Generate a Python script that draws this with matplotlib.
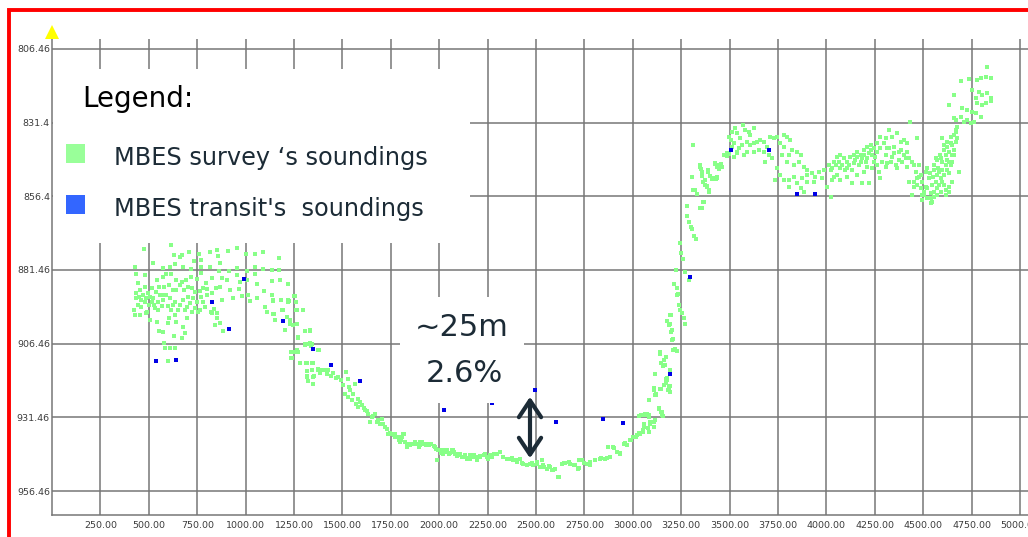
import matplotlib
matplotlib.use('Agg')
import matplotlib.pyplot as plt
from matplotlib.patches import Rectangle, FancyArrowPatch
from matplotlib.lines import Line2D

W, H = 1028, 537

# ---------------- axis ticks ----------------
x_ticks = [250, 500, 750, 1000, 1250, 1500, 1750, 2000, 2250, 2500, 2750,
           3000, 3250, 3500, 3750, 4000, 4250, 4500, 4750, 5000]
x_tick_labels = ["250.00", "500.00", "750.00", "1000.00", "1250.00", "1500.00",
                 "1750.00", "2000.00", "2250.00", "2500.00", "2750.00", "3000.00",
                 "3250.00", "3500.00", "3750.00", "4000.00", "4250.00", "4500.00",
                 "4750.00", "5000.00"]
y_ticks = [806.46, 831.46, 856.46, 881.46, 906.46, 931.46, 956.46]
y_tick_labels = ["806.46", "831.4", "856.4", "881.46", "906.46", "931.46", "956.46"]

# ---------------- MBES transit soundings (blue) ----------------
transit_dist = [537, 640, 826, 914, 992, 1192, 1347, 1439, 1591, 2026, 2271,
                2495, 2602, 2844, 2948, 3194, 3294, 3505, 3703, 3846, 3942]
transit_depth = [912.5, 911.9, 892.4, 901.4, 884.6, 898.7, 908.3, 913.8, 919.3,
                 929.1, 926.6, 922.2, 933.1, 932.1, 933.4, 916.7, 883.8, 840.7,
                 840.7, 855.6, 855.8]

# ---------------- MBES survey soundings (green), by section ----------------
survey_left = [
    (476, 874.3), (617, 872.9), (629, 876.4), (671, 876.4), (710, 875.3), (759, 876.0),
    (767, 878.1), (817, 875.3), (853, 874.6), (855, 876.7), (910, 875.0), (953, 874.0),
    (1002, 876.0), (1047, 876.0), (1090, 875.3), (1174, 877.4),
    (428, 880.3), (524, 879.1), (571, 880.7), (609, 880.5), (636, 879.4), (660, 877.1),
    (678, 880.3), (717, 881.2), (733, 878.3), (771, 880.3), (816, 880.3), (867, 879.1),
    (864, 881.7), (912, 881.7), (957, 880.7), (1005, 881.8), (1048, 880.4), (1090, 881.2),
    (1134, 881.5), (1174, 881.5),
    (433, 882.8), (479, 883.2), (540, 884.9), (571, 883.7), (591, 883.0), (617, 882.8),
    (638, 884.9), (669, 885.5), (693, 884.9), (717, 883.7), (747, 884.4), (771, 882.6),
    (793, 886.0), (828, 884.3), (876, 884.3), (902, 884.9), (957, 883.2), (971, 885.4),
    (1005, 884.9), (1050, 883.0), (1057, 886.2), (1134, 885.2), (1178, 884.9), (1217, 886.2),
    (445, 886.0), (453, 888.3), (479, 887.1), (497, 889.2), (514, 887.7), (536, 888.8),
    (553, 887.1), (576, 887.4), (603, 886.6), (626, 888.3), (643, 888.3), (660, 886.6),
    (681, 888.3), (700, 887.1), (721, 887.7), (738, 888.8), (764, 888.5), (781, 887.7),
    (802, 888.0), (824, 889.4), (847, 887.7), (867, 887.1), (919, 888.3), (966, 888.0),
    (979, 890.3), (1014, 889.9), (1060, 891.1), (1097, 888.6), (1134, 889.9), (1221, 891.7),
    (1252, 890.2),
    (433, 891.1), (445, 893.4), (424, 895.1), (459, 894.0), (479, 892.3), (491, 895.7),
    (502, 893.4), (522, 891.1), (531, 894.5), (545, 892.3), (566, 893.7), (579, 889.9),
    (600, 893.7), (617, 895.1), (634, 892.3), (652, 895.1), (678, 891.7), (695, 894.0),
    (712, 892.8), (721, 895.7), (738, 894.2), (755, 895.7), (781, 892.3), (802, 889.9),
    (819, 895.7), (838, 894.6), (850, 896.2), (876, 891.7), (936, 891.1), (1022, 891.9),
    (1100, 894.0), (1140, 891.9), (1183, 891.7), (1224, 892.1), (1259, 895.1), (1298, 895.1),
    (1109, 895.7),
    (428, 896.8), (453, 896.8), (488, 896.2), (505, 898.5), (540, 899.1), (605, 897.6),
    (634, 896.8), (643, 899.1), (678, 900.8), (695, 897.9), (764, 895.1), (824, 896.2),
    (841, 900.2), (853, 897.6), (867, 899.6), (881, 902.2), (1147, 896.5), (1186, 895.1),
    (1153, 898.5), (1229, 898.3), (1247, 900.2), (1203, 901.9), (1307, 902.1), (1333, 901.9),
    (1269, 904.4), (1315, 906.5), (553, 902.1), (571, 902.5), (600, 899.6), (629, 903.9),
    (669, 904.7), (686, 903.0),
    (578, 906.2), (586, 908.1), (612, 907.8), (634, 907.8), (600, 912.4), (1243, 909.4),
    (1234, 911.2), (1260, 909.4), (1307, 907.0), (1341, 906.5), (1281, 913.0), (1315, 913.0),
    (1350, 913.0), (1374, 908.7), (1341, 915.5), (1376, 915.5), (1315, 917.8), (1350, 917.8),
    (436, 889.4), (450, 890.5), (462, 891.7), (471, 889.9), (484, 891.1), (505, 890.5),
    (514, 892.3), (528, 893.4), (548, 895.1), (557, 889.9), (574, 891.7), (591, 889.9),
    (609, 891.1), (626, 893.4), (660, 893.4), (686, 895.1), (703, 890.5), (729, 891.1),
    (747, 892.3), (772, 890.5), (790, 894.0),
]

survey_slope = [
    (1140, 891.8), (1143, 896.5), (1152, 898.5), (1183, 891.8), (1191, 895.2), (1203, 901.9),
    (1212, 897.4), (1221, 892.3), (1229, 899.7), (1255, 890.4), (1260, 892.3), (1264, 894.9),
    (1267, 899.9), (1298, 895.2), (1272, 904.2), (1305, 902.2), (1333, 902.2), (1307, 906.5),
    (1333, 906.2), (1338, 907.3), (1233, 909.3), (1241, 911.3), (1267, 908.7), (1272, 909.3),
    (1379, 908.5), (1281, 913.0), (1310, 913.0), (1341, 913.0), (1316, 915.9), (1319, 917.5),
    (1321, 919.1), (1347, 920.0), (1355, 917.5), (1376, 914.9), (1384, 916.4), (1393, 915.5),
    (1410, 915.5), (1419, 916.6), (1428, 915.3), (1441, 917.5), (1453, 916.4), (1467, 918.0),
    (1479, 917.8), (1493, 918.9), (1519, 916.1), (1529, 918.3), (1502, 920.6), (1534, 921.2),
    (1565, 920.0), (1514, 923.4), (1528, 924.6), (1548, 925.7), (1571, 926.8), (1583, 928.0),
    (1600, 927.4), (1617, 929.1), (1634, 930.2), (1652, 931.3), (1643, 933.0), (1669, 930.4),
    (1686, 932.5), (1703, 931.9), (1712, 933.6), (1721, 934.7), (1738, 937.0), (1764, 937.6),
    (1781, 938.1), (1790, 939.3), (1807, 938.1), (1819, 937.0), (1833, 941.5), (1850, 941.0),
    (1867, 940.4), (1884, 940.4), (1902, 941.0), (1919, 940.4), (1945, 941.0), (1971, 941.3),
    (1996, 942.7), (2022, 942.4), (2040, 943.2), (2065, 942.7), (2083, 943.8), (2100, 944.3),
    (2117, 944.9), (2143, 945.1), (2169, 944.7), (2195, 944.9), (2229, 944.3), (2264, 944.3),
    (2298, 943.8),
    (1540, 922.3), (1557, 923.4), (1578, 925.1), (1591, 926.2), (1609, 928.2), (1626, 929.3),
    (1660, 931.1), (1677, 933.0), (1695, 933.6), (1729, 935.3), (1747, 936.8), (1772, 938.1),
    (1798, 939.8), (1824, 939.8), (1841, 940.4), (1876, 939.8), (1893, 941.5), (1910, 939.8),
    (1936, 940.4), (1957, 940.6), (1983, 942.1), (2009, 943.6), (2031, 942.4), (2053, 943.8),
    (2074, 943.2), (2091, 944.7), (2109, 943.8), (2134, 944.3), (2157, 945.5), (2181, 944.3),
    (2212, 944.9), (2246, 944.9), (2281, 944.0),
]

survey_bottom = [
    (1753, 937.0), (1771, 937.2), (1788, 938.1), (1814, 937.0), (1805, 939.3), (1831, 941.0),
    (1848, 940.4), (1874, 940.2), (1900, 939.8), (1917, 940.6), (1934, 941.0), (1960, 940.6),
    (1978, 941.5), (1986, 946.1), (2003, 942.7), (2021, 943.8), (2038, 942.4), (2055, 943.6),
    (2072, 942.7), (2090, 943.8), (2107, 944.3), (2124, 944.9), (2141, 945.5), (2159, 944.3),
    (2176, 944.9), (2193, 946.1), (2210, 944.7), (2236, 944.0), (2253, 945.5), (2271, 944.9),
    (2297, 943.8), (2314, 943.2), (2331, 944.9), (2348, 945.5), (2365, 945.5), (2383, 946.1),
    (2400, 946.6), (2417, 945.5), (2434, 947.2), (2452, 947.7), (2469, 947.2), (2486, 947.7),
    (2503, 947.2), (2521, 948.3), (2538, 947.7), (2555, 948.9), (2572, 948.3), (2590, 949.4),
    (2615, 951.7), (2633, 947.2), (2650, 947.0), (2676, 947.4), (2702, 947.7), (2719, 948.9),
    (2736, 946.1), (2762, 947.2), (2779, 946.6), (2805, 946.1), (2831, 945.5), (2857, 945.5),
    (2883, 944.9), (2874, 941.5), (2900, 941.5), (2917, 943.2), (2934, 943.8), (2952, 940.4),
    (2969, 941.0), (2986, 939.3), (3003, 938.1), (3021, 937.6), (3038, 937.0), (3055, 935.9),
    (3034, 931.1), (3064, 930.8), (3081, 931.3), (3107, 933.0), (3133, 928.5), (3150, 929.6),
    (3155, 931.1), (3081, 925.7), (3107, 922.3), (3121, 924.0), (3138, 921.7), (3159, 920.6),
    (3176, 918.9), (3184, 922.3), (3193, 915.5), (3172, 918.3), (3167, 913.8), (3159, 912.1),
    (3138, 909.9), (3115, 916.6), (3210, 908.7), (3219, 908.2), (3202, 905.3), (3198, 902.5),
    (3193, 896.8), (3190, 899.7), (3228, 890.1), (3236, 893.5),
    (2376, 945.4), (2402, 945.9), (2428, 946.8), (2453, 947.6), (2479, 947.1), (2505, 946.5),
    (2531, 945.9), (2540, 948.4), (2566, 948.0), (2583, 949.3), (2600, 949.1), (2617, 951.8),
    (2643, 947.1), (2669, 946.5), (2695, 947.6), (2721, 945.9), (2721, 948.8), (2747, 947.1),
    (2781, 947.6), (2807, 945.9), (2833, 945.4), (2867, 945.4), (2871, 941.4), (2902, 942.0),
    (2919, 943.1), (2936, 943.7), (2962, 940.3), (2988, 939.2), (3014, 938.0), (3031, 936.9),
    (3040, 930.7), (3057, 934.6), (3065, 930.3), (3083, 936.3), (3091, 932.9), (3109, 934.6),
    (3117, 923.9), (3109, 922.0), (3143, 922.0), (3152, 930.1), (3186, 921.1), (3191, 922.8),
    (3135, 928.4),
]

survey_wall = [
    (3312, 839.2), (3345, 846.0), (3350, 847.1), (3303, 849.9), (3359, 849.7), (3364, 851.6),
    (3372, 852.7), (3384, 853.1), (3393, 854.4), (3312, 854.2), (3319, 854.4), (3333, 855.8),
    (3364, 858.4), (3347, 860.4), (3359, 860.6), (3390, 848.2), (3398, 849.7), (3422, 845.4),
    (3433, 846.6), (3445, 847.1), (3453, 845.4), (3471, 842.6), (3484, 842.9), (3497, 842.0),
    (3505, 837.5), (3514, 839.6), (3540, 841.8), (3522, 843.2), (3407, 850.5), (3428, 850.5),
    (3436, 850.3), (3278, 859.8), (3281, 863.2), (3290, 865.1), (3298, 866.8), (3307, 867.7),
    (3316, 870.0), (3324, 871.1), (3243, 872.2), (3250, 875.8), (3260, 877.9), (3221, 881.5),
    (3272, 882.0), (3290, 884.8), (3212, 886.2), (3229, 887.6), (3234, 889.7), (3243, 895.0),
    (3255, 896.1), (3264, 897.8), (3272, 899.7), (3178, 898.9), (3186, 900.0), (3198, 896.7),
    (3200, 901.9), (3207, 904.9), (3217, 908.5), (3226, 909.0), (3140, 909.4), (3172, 911.1),
    (3147, 913.0), (3155, 914.1), (3116, 916.7), (3178, 918.0), (3169, 919.7), (3191, 920.9),
    (3188, 922.2), (3109, 921.4), (3119, 923.7), (3147, 922.0), (3086, 925.6), (3134, 928.8),
    (3143, 929.6), (3152, 930.8), (3114, 932.4), (3071, 930.4), (3083, 930.8), (3048, 930.7),
    (3057, 933.8), (3078, 935.2), (3091, 933.8), (3109, 934.7), (3053, 936.3),
]

survey_plateau = [
    (3348, 846.4), (3357, 848.1), (3374, 850.9), (3383, 853.2), (3391, 854.9), (3366, 858.3),
    (3357, 860.5), (3386, 847.5), (3426, 845.3), (3443, 845.8), (3460, 846.4), (3469, 842.4),
    (3486, 841.9), (3417, 850.3), (3434, 849.8),
    (3495, 836.2), (3512, 834.5), (3529, 833.4), (3538, 835.1), (3555, 836.8), (3569, 832.2),
    (3581, 833.9), (3598, 834.5), (3607, 835.6), (3624, 833.4), (3521, 838.5), (3547, 840.2),
    (3564, 839.0), (3590, 837.9), (3607, 839.0), (3624, 838.5), (3641, 837.9), (3659, 837.3),
    (3676, 838.2), (3693, 839.6), (3710, 836.2), (3728, 836.8), (3745, 836.2), (3590, 841.3),
    (3624, 841.3), (3650, 840.7), (3676, 841.3), (3702, 842.4), (3684, 844.7), (3719, 843.6),
    (3572, 842.4), (3538, 841.3),
    (3762, 838.5), (3779, 835.6), (3797, 836.2), (3814, 837.3), (3779, 839.6), (3771, 842.4),
    (3805, 842.4), (3822, 840.7), (3848, 841.3), (3866, 842.4), (3797, 844.7), (3831, 845.8),
    (3857, 844.7), (3883, 846.4), (3900, 847.5), (3745, 846.9), (3762, 849.2), (3779, 850.9),
    (3736, 850.9), (3805, 850.9), (3831, 849.8), (3848, 852.0), (3874, 850.3), (3900, 849.2),
    (3926, 848.6), (3943, 849.8), (3960, 848.1), (3986, 847.5), (3978, 850.3), (3934, 851.5),
    (3900, 851.5), (3805, 853.2), (3866, 853.7), (3883, 854.9), (4021, 856.6), (4003, 853.2),
    (4029, 850.9), (4021, 847.5),
    (4012, 845.8), (4038, 844.7), (4055, 843.0), (4072, 842.4), (4090, 843.6), (4107, 844.7),
    (4124, 843.0), (4141, 842.4), (4159, 841.3), (4176, 842.4), (4193, 840.7), (4210, 839.6),
    (4228, 839.0), (4245, 840.2), (4262, 841.3), (4236, 842.4), (4210, 843.6), (4176, 844.7),
    (4141, 845.3), (4107, 846.9), (4072, 846.9), (4055, 849.2), (4038, 849.8), (4072, 850.9),
    (4107, 849.8), (4133, 852.0), (4159, 849.2), (4193, 848.1), (4210, 846.4), (4236, 846.9),
    (4262, 845.8), (4184, 852.0), (4219, 852.0), (4279, 850.3), (4271, 848.1), (4245, 844.7),
    (4029, 846.9), (4047, 845.8), (4064, 844.7), (4081, 845.8), (4098, 847.5), (4115, 845.8),
    (4133, 847.5), (4150, 844.1), (4167, 845.8), (4184, 843.6), (4202, 844.7), (4219, 841.9),
    (4253, 843.0), (4288, 844.7), (4305, 846.4), (4331, 844.7), (4357, 845.8), (4391, 844.7),
    (4400, 842.4), (4426, 843.6), (4452, 845.8), (4374, 841.3), (4348, 841.9), (4322, 840.2),
    (4296, 838.5), (4262, 838.5), (4228, 840.7), (4193, 842.4), (4159, 843.0),
    (4279, 836.2), (4305, 836.8), (4322, 833.9), (4340, 836.2), (4365, 835.1), (4383, 837.9),
    (4403, 837.3), (4417, 838.5), (4434, 831.1), (4279, 840.2), (4314, 840.2), (4348, 839.6),
    (4383, 840.7), (4417, 841.3), (4305, 842.4), (4340, 843.0), (4374, 844.1), (4409, 843.6),
    (4443, 844.7), (4314, 845.3), (4365, 846.9), (4417, 846.4), (4469, 836.8), (4478, 845.8),
    (4460, 848.1), (4426, 851.5), (4452, 853.2), (4443, 856.0), (4478, 849.8), (4495, 851.5),
    (4512, 853.2), (4529, 850.3), (4546, 852.6), (4503, 856.0), (4538, 857.1), (4555, 854.9),
    (4572, 853.7), (4495, 857.7), (4538, 858.8),
    (4469, 852.6), (4486, 853.7), (4503, 854.9), (4521, 853.7), (4538, 855.4), (4555, 856.6),
    (4564, 851.5), (4581, 852.6), (4598, 851.5), (4607, 849.2), (4624, 847.5), (4641, 845.8),
    (4650, 842.4), (4633, 844.7), (4615, 842.4), (4598, 844.7), (4576, 846.9), (4552, 849.8),
    (4534, 848.6), (4512, 848.1), (4490, 849.2), (4469, 850.3), (4452, 851.5), (4495, 856.0),
    (4521, 857.1), (4546, 858.3), (4572, 856.0), (4590, 854.9), (4615, 854.3), (4633, 853.2),
    (4659, 840.7), (4667, 837.9), (4676, 836.8), (4641, 838.5), (4624, 839.6), (4607, 839.0),
    (4586, 842.4), (4564, 843.6),
    (4521, 846.9), (4555, 845.8), (4572, 844.1), (4590, 843.6), (4581, 848.1), (4598, 847.5),
    (4615, 845.8), (4624, 844.1), (4633, 841.3), (4607, 840.7), (4624, 837.9), (4641, 836.2),
    (4650, 839.0), (4659, 835.6), (4667, 833.9), (4676, 832.8), (4659, 842.4), (4650, 844.7),
    (4590, 850.3), (4607, 852.6), (4633, 848.6), (4650, 851.5), (4572, 849.2), (4555, 847.5),
    (4598, 836.8), (4684, 848.1), (4667, 834.5), (4633, 854.9), (4615, 856.0), (4667, 830.6),
    (4693, 829.4), (4710, 831.1), (4727, 830.6), (4745, 831.7), (4762, 831.1), (4659, 830.0),
    (4633, 825.5), (4659, 822.1), (4693, 817.5), (4736, 816.6), (4753, 820.4), (4779, 817.0),
    (4796, 816.4), (4822, 815.9), (4831, 812.5), (4848, 816.4), (4771, 823.0), (4788, 821.0),
    (4805, 822.1), (4831, 821.5), (4848, 823.0), (4822, 824.9), (4805, 825.5), (4779, 824.9),
    (4702, 826.6), (4727, 827.2), (4753, 827.7), (4771, 828.3), (4796, 829.4), (4848, 824.3),
]

legend_title = "Legend:"
legend_labels = ["MBES survey \u2018s soundings", "MBES transit's  soundings"]
annot_lines = ["~25m", "2.6%"]

# ---------------- colours ----------------
GREEN = '#88ff88'
BLUE = '#0000e6'
LEG_GREEN = '#99ff99'
LEG_BLUE = '#3366ff'
TEXT_DARK = '#1c2b36'
GRID = '#767676'

# ---------------- figure ----------------
fig = plt.figure(figsize=(W / 100, H / 100), dpi=100)
fig.patch.set_facecolor('white')


def fx(px):
    return px / W


def fy(py):
    return 1 - py / H


ax_left, ax_right, ax_top, ax_bottom = 52, 1028, 39, 515
ax = fig.add_axes([fx(ax_left), fy(ax_bottom), (ax_right - ax_left) / W,
                   (ax_bottom - ax_top) / H])
ax.set_facecolor('white')

survey = survey_left + survey_slope + survey_bottom + survey_wall + survey_plateau
sx = [p[0] for p in survey]
sy = [p[1] for p in survey]
ax.plot(sx, sy, linestyle='none', marker='s', markersize=3.4, markeredgewidth=0,
        color=GREEN, zorder=3)
ax.plot(transit_dist, transit_depth, linestyle='none', marker='s', markersize=3.0,
        markeredgewidth=0, color=BLUE, zorder=4)

ax.set_xlim(0, 5041)
ax.set_ylim(964.6, 803.1)
ax.set_xticks(x_ticks)
ax.set_xticklabels(x_tick_labels)
ax.set_yticks(y_ticks)
ax.set_yticklabels(y_tick_labels)
ax.tick_params(axis='both', length=0, labelsize=6.8, labelcolor='#3c3c3c')
ax.tick_params(axis='x', pad=4.5)
ax.tick_params(axis='y', pad=1.5)
ax.set_axisbelow(True)
ax.grid(True, color=GRID, linewidth=1.1)
for s in ['top', 'right']:
    ax.spines[s].set_visible(False)
for s in ['left', 'bottom']:
    ax.spines[s].set_color(GRID)
    ax.spines[s].set_linewidth(1.1)

# ---------------- legend box ----------------
fig.add_artist(Rectangle((fx(53), fy(243)), (470 - 53) / W, (243 - 69) / H,
                         transform=fig.transFigure, facecolor='white',
                         edgecolor='none', zorder=5))
fig.text(fx(82), fy(99), legend_title, fontsize=20, color='black',
         ha='left', va='center', zorder=6)
fig.add_artist(Rectangle((fx(66), fy(163)), 19 / W, 19 / H, transform=fig.transFigure,
                         facecolor=LEG_GREEN, edgecolor='none', zorder=6))
fig.add_artist(Rectangle((fx(66), fy(214)), 19 / W, 19 / H, transform=fig.transFigure,
                         facecolor=LEG_BLUE, edgecolor='none', zorder=6))
fig.text(fx(114), fy(158), legend_labels[0], fontsize=17.3, color=TEXT_DARK,
         ha='left', va='center', zorder=6)
fig.text(fx(114), fy(209), legend_labels[1], fontsize=17.3, color=TEXT_DARK,
         ha='left', va='center', zorder=6)

# ---------------- annotation box ----------------
fig.add_artist(Rectangle((fx(400), fy(403)), (524 - 400) / W, (403 - 297) / H,
                         transform=fig.transFigure, facecolor='white',
                         edgecolor='none', zorder=5))
fig.text(fx(462), fy(327), annot_lines[0], fontsize=22, color=TEXT_DARK,
         ha='center', va='center', zorder=6)
fig.text(fx(464), fy(373), annot_lines[1], fontsize=22, color=TEXT_DARK,
         ha='center', va='center', zorder=6)
fig.add_artist(FancyArrowPatch(
    (fx(530), fy(461)), (fx(530), fy(394)), transform=fig.transFigure,
    arrowstyle='<->,head_length=0.6,head_width=0.4', mutation_scale=20,
    color=TEXT_DARK, linewidth=3, zorder=7))

# ---------------- yellow axis arrow ----------------
fig.add_artist(Line2D([fx(52)], [fy(32)], transform=fig.transFigure, marker='^',
                      markersize=10, color='#ffff00', markeredgewidth=0,
                      linestyle='none', zorder=7))

# ---------------- red border ----------------
fig.add_artist(Line2D([fx(8.5), fx(8.5), 1.01], [-0.01, fy(10.3), fy(10.3)],
                      transform=fig.transFigure, color='#ff0000', linewidth=2.8,
                      solid_joinstyle='miter', zorder=8))

fig.savefig('out.png', dpi=100, facecolor='white')
